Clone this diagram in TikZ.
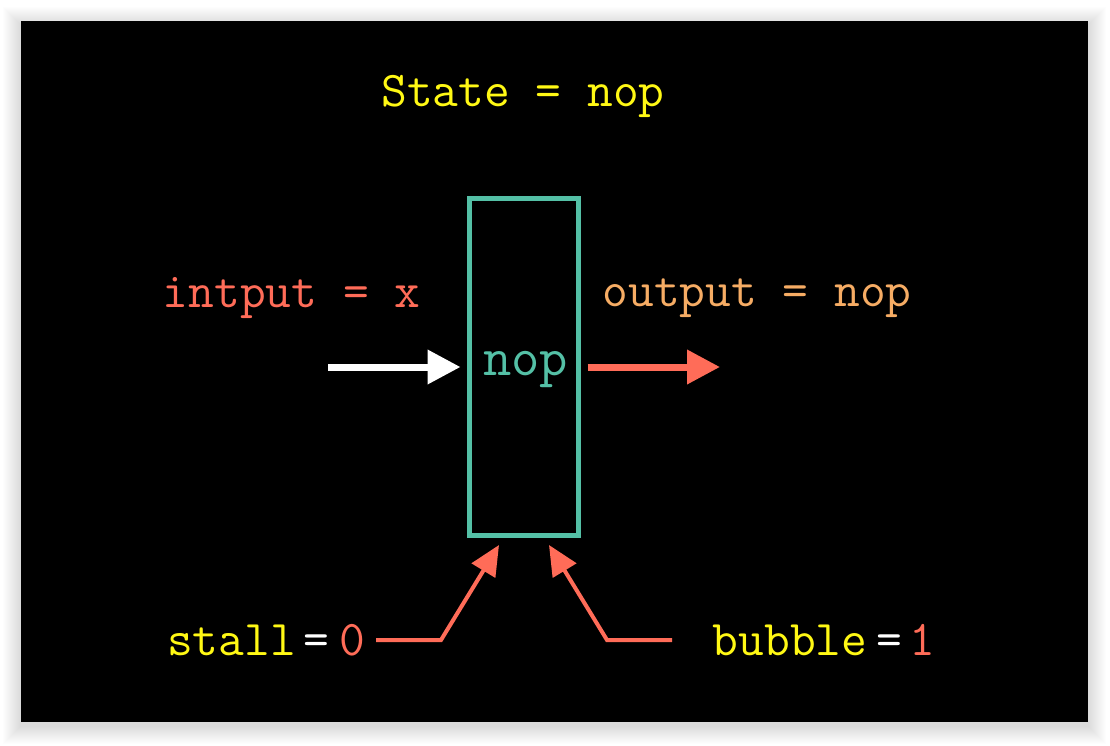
\documentclass[tikz,border=0pt]{standalone}
\usetikzlibrary{arrows.meta}
\definecolor{hlyellow}{RGB}{255,248,20}
\definecolor{coral}{RGB}{255,108,88}
\definecolor{peach}{RGB}{246,172,100}
\definecolor{teal}{RGB}{84,192,166}
\tikzset{
  label/.style={font=\fontsize{50}{60}\selectfont\ttfamily, inner sep=0pt, anchor=base},
  digit/.style={label, text=coral},
  regbox/.style={draw=teal, line width=5pt, minimum width=109pt, minimum height=337pt, inner sep=0pt},
  bigarrow/.style={line width=7pt, -{Triangle[length=33pt,width=33pt]}},
  ctrlarrow/.style={line width=4pt, draw=coral, -{Triangle[length=30pt,width=27pt]}},
}
\begin{document}
\begin{tikzpicture}[x=1pt, y=-1pt]
\useasboundingbox (0,0) rectangle (1110,745);
\fill[white] (0,0) rectangle (1110,745);
% soft shadow round the slide
\foreach \i in {1,...,18}
  \fill[black, fill opacity=0.006] (21-\i,21-\i+4) rectangle (1088+\i,722+\i+4);
\fill[black] (21,21) rectangle (1088,722);

% register
\node[regbox] (box) at (524,367) {};
\node[font=\fontsize{55}{66}\selectfont\ttfamily, text=teal, inner sep=0pt, anchor=base] (state) at (525.5,375) {nop};

% labels
\node[label, text=hlyellow] (title) at (523,106) {State = nop};
\node[label, text=coral] (inlbl) at (291.5,307) {intput = x};
\node[label, text=peach] (outlbl) at (757,306) {output = nop};

\node[label, text=hlyellow] (stall) at (231.5,655) {stall};
\node[label, text=white] (stalleq) at (316,655) {=};
\node[digit] (stallval) at (352,655) {0};

\node[label, text=hlyellow] (bubble) at (790,655) {bubble};
\node[label, text=white] (bubbleeq) at (889,655) {=};
\node[digit] (bubbleval) at (922.5,655) {1};

% input and output arrows
\coordinate (insrc) at (328,367);
\coordinate (outdst) at (720,367);
\draw[bigarrow, white] (insrc) -- ([xshift=-6.5pt]box.west);
\draw[bigarrow, coral] ([xshift=6.5pt]box.east) -- (outdst);

% control inputs
\coordinate (stallstart) at (376,640);
\coordinate (stallbend) at (441,640);
\coordinate (stalltip) at (499,545);
\coordinate (bubblestart) at (672,640);
\coordinate (bubblebend) at (607,640);
\coordinate (bubbletip) at (549,545);
\draw[ctrlarrow] (stallstart) -- (stallbend) -- (stalltip);
\draw[ctrlarrow] (bubblestart) -- (bubblebend) -- (bubbletip);
\end{tikzpicture}
\end{document}
